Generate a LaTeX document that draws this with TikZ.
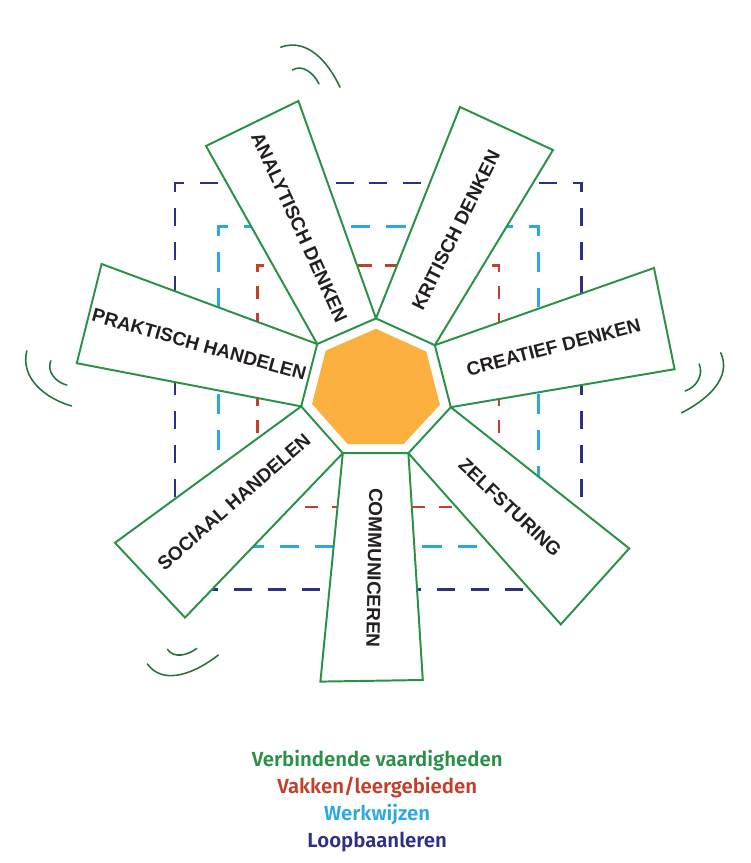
\documentclass[tikz,border=0pt]{standalone}
\usepackage{fontspec}
\setmainfont{Liberation Sans}
\newfontfamily\legendfont{Fira Sans SemiBold}
\usetikzlibrary{calc}

\definecolor{vgreen}{RGB}{42,145,72}
\definecolor{arcgreen}{RGB}{38,112,60}
\definecolor{vakred}{RGB}{192,64,42}
\definecolor{werkblue}{RGB}{41,169,224}
\definecolor{loopnavy}{RGB}{46,49,130}
\definecolor{hexorange}{RGB}{251,176,64}
\definecolor{textblack}{RGB}{35,31,32}

\begin{document}
\begin{tikzpicture}[
    petal/.style={draw=vgreen, fill=white, line width=1.4pt},
    petaltext/.style={font=\bfseries\fontsize{13.5}{16}\selectfont, text=textblack, inner sep=0pt},
    frame/.style={line width=2pt},
    swoosh/.style={arcgreen, line width=1.1pt, line cap=round},
    legendtext/.style={font=\legendfont\fontsize{14.5}{17}\selectfont, anchor=base, inner sep=0pt}
]
    \useasboundingbox (-9.4,-11.825) rectangle (9.375,9.75);

    % Dashed frames
    \draw[frame, loopnavy, dash pattern=on 0.45cm off 0.3975cm, dash phase=0.225cm] (-5.025,-4.995) rectangle (5.145,5.175);
    \draw[frame, werkblue, dash pattern=on 0.49cm off 0.4cm, dash phase=0.245cm] (-3.945,-3.915) rectangle (4.065,4.095);
    \draw[frame, vakred, dash pattern=on 0.33cm off 0.34cm, dash phase=0.165cm] (-2.955,-2.925) rectangle (3.075,3.105);

    % Petals
    \draw[petal] (0,1.79) -- (-1.94,7.225) -- (-4.25,6.10) -- (-1.47,1.15) -- cycle;
    \draw[petal] (-1.47,1.15) -- (-6.86,3.15) -- (-7.48,0.67) -- (-1.87,-0.41) -- cycle;
    \draw[petal] (-1.87,-0.41) -- (-6.525,-3.82) -- (-4.775,-5.69) -- (-0.83,-1.58) -- cycle;
    \draw[petal] (-0.83,-1.58) -- (-1.39,-7.29) -- (1.17,-7.25) -- (0.81,-1.58) -- cycle;
    \draw[petal] (0.81,-1.58) -- (4.62,-5.86) -- (6.33,-3.96) -- (1.87,-0.43) -- cycle;
    \draw[petal] (1.87,-0.43) -- (7.465,0.52) -- (6.95,3.05) -- (1.47,1.12) -- cycle;
    \draw[petal] (1.47,1.12) -- (4.425,6.0) -- (2.10,7.075) -- (0,1.79) -- cycle;

    % Centre
    \fill[hexorange, scale=0.855] (0,1.79) -- (-1.47,1.15) -- (-1.87,-0.41) -- (-0.83,-1.58) -- (0.81,-1.58) -- (1.87,-0.43) -- (1.47,1.12) -- cycle;

    % Labels
    \node[petaltext, rotate=-65.5] (analytisch) at (-1.915,4.07) {ANALYTISCH DENKEN};
    \node[petaltext, rotate=63.6] (kritisch) at (2.0,4.0) {KRITISCH DENKEN};
    \node[petaltext, rotate=14.6] (creatief) at (4.44,1.07) {CREATIEF DENKEN};
    \node[petaltext, rotate=-43.4] (zelfsturing) at (3.35,-2.94) {ZELFSTURING};
    \node[petaltext, rotate=-91] (communiceren) at (-0.04,-4.45) {COMMUNICEREN};
    \node[petaltext, rotate=41.2] (sociaal) at (-3.55,-2.8) {SOCIAAL HANDELEN};
    \node[petaltext, rotate=-15.6] (praktisch) at (-4.42,1.14) {PRAKTISCH HANDELEN};

    % Motion marks
    \draw[swoosh] (-2.38,8.57) to[out=20,in=115] (-0.9,7.57);
    \draw[swoosh] (-2.09,8.0) to[out=32,in=115] (-1.425,7.65);
    \draw[swoosh] (-8.73,0.98) to[out=-104,in=164] (-7.61,-0.4);
    \draw[swoosh] (-8.13,0.73) to[out=-113,in=167] (-7.73,0.125);
    \draw[swoosh] (8.62,0.93) to[out=-66,in=27] (7.64,-0.57);
    \draw[swoosh] (8.08,0.65) to[out=-67,in=18] (7.725,-0.025);
    \draw[swoosh] (-5.715,-6.85) to[out=-54,in=-142] (-3.94,-6.625);
    \draw[swoosh] (-5.215,-6.48) to[out=-57,in=-143] (-4.48,-6.46);

    % Legend
    \node[legendtext, vgreen] (verbindend) at (0.03,-9.4175) {Verbindende vaardigheden};
    \node[legendtext, vakred] (vakken) at (0.03,-10.0825) {Vakken/leergebieden};
    \node[legendtext, werkblue] (werkwijzen) at (0.03,-10.7675) {Werkwijzen};
    \node[legendtext, loopnavy] (loopbaan) at (0.03,-11.4325) {Loopbaanleren};
\end{tikzpicture}
\end{document}
